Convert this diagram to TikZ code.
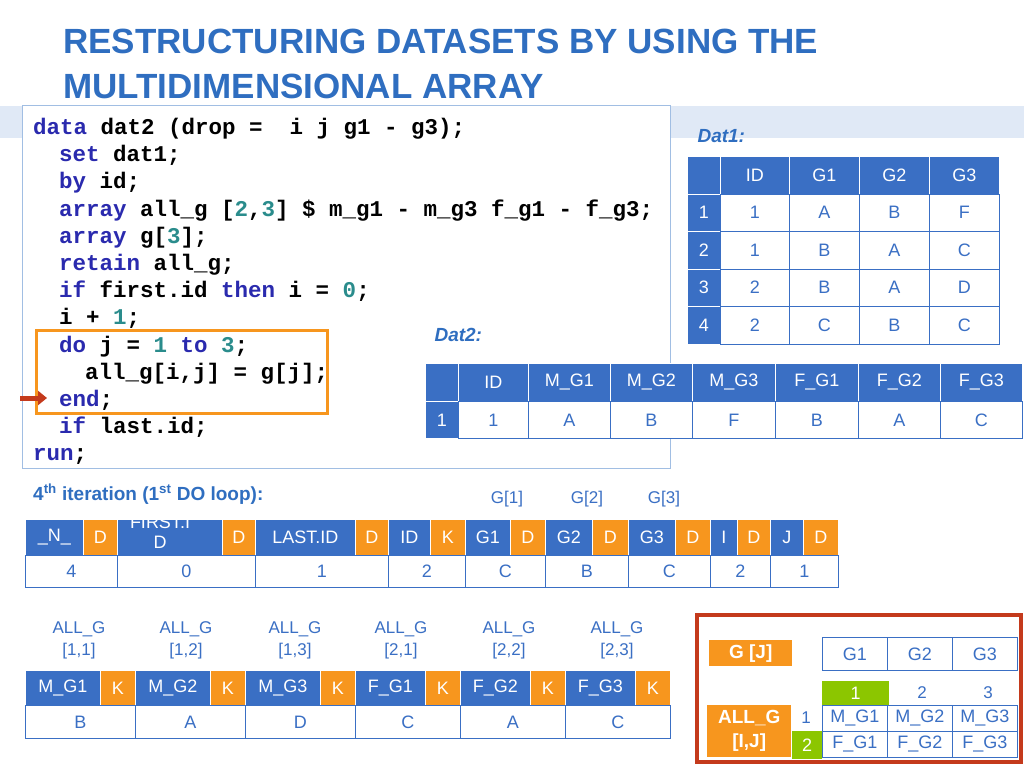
\documentclass[tikz,border=0pt]{standalone}
\usepackage{fontspec}
\usetikzlibrary{arrows.meta}
\setmainfont{Liberation Sans}
\newfontfamily\codefont{Liberation Mono}
\begin{document}
\begin{tikzpicture}[x=1pt,y=-1pt,
  blu/.style={fill=tblue,draw=white,line width=0.8pt,text=white,font=\fontsize{18}{18}\selectfont,inner sep=1pt},
  org/.style={fill=torange,draw=white,line width=0.8pt,text=white,font=\fontsize{18}{18}\selectfont,inner sep=1pt},
  wcell/.style={fill=white,draw=tblue,line width=0.8pt,text=tblue,font=\fontsize{18}{18}\selectfont,inner sep=1pt},
  lbl/.style={text=tblue,font=\fontsize{17}{22}\selectfont,align=center},
  hdr/.style={text=ttitle,font=\bfseries\itshape\fontsize{19}{19}\selectfont},
  code/.style={anchor=base west,inner sep=0pt,font=\codefont\bfseries\fontsize{22.5}{22.5}\selectfont}]
\definecolor{tblue}{HTML}{3A6FC4}
\definecolor{ttitle}{HTML}{2F6EC0}
\definecolor{torange}{HTML}{F7961E}
\definecolor{tgreen}{HTML}{8CC600}
\definecolor{kwc}{HTML}{2A2AAE}
\definecolor{numc}{HTML}{2A8C8C}
\definecolor{tred}{HTML}{C43A1C}
\useasboundingbox (0,0) rectangle (1024,768);
\fill[white] (0,0) rectangle (1024,768);
\fill[ttitle!15] (0,106) rectangle (1024,138);
% title
\node[anchor=base west,inner sep=0pt,text=ttitle,font=\bfseries\fontsize{35}{35}\selectfont] (t1) at (63,54) {RESTRUCTURING DATASETS BY USING THE};
\node[anchor=base west,inner sep=0pt,text=ttitle,font=\bfseries\fontsize{35}{35}\selectfont] (t2) at (63,98) {MULTIDIMENSIONAL ARRAY};
% code box
\draw[fill=white,draw=ttitle!45,line width=1pt] (22,105) rectangle (670,468);
\newcommand{\K}[1]{\textcolor{kwc}{#1}}
\newcommand{\N}[1]{\textcolor{numc}{#1}}
\def\cx{33}\def\ci{59}\def\cii{85}
\node[code] (c1) at (\cx,134) {\K{data} dat2 (drop =\ \ i j g1 - g3);};
\node[code] (c2) at (\ci,161) {\K{set} dat1;};
\node[code] (c3) at (\ci,188) {\K{by} id;};
\node[code] (c4) at (\ci,216) {\K{array} all\_g [\N{2},\N{3}] \$ m\_g1 - m\_g3 f\_g1 - f\_g3;};
\node[code] (c5) at (\ci,243) {\K{array} g[\N{3}];};
\node[code] (c6) at (\ci,270) {\K{retain} all\_g;};
\node[code] (c7) at (\ci,297) {\K{if} first.id \K{then} i = \N{0};};
\node[code] (c8) at (\ci,324) {i + \N{1};};
\node[code] (c9) at (\ci,352) {\K{do} j = \N{1} \K{to} \N{3};};
\node[code] (c10) at (\cii,379) {all\_g[i,j] = g[j];};
\node[code] (c11) at (\ci,406) {\K{end};};
\node[code] (c12) at (\ci,433) {\K{if} last.id;};
\node[code] (c13) at (\cx,460) {\K{run};};
\draw[torange,line width=3pt] (36,330) rectangle (327,413);
\coordinate (arS) at (20,398); \coordinate (arE) at (47,398);
\draw[tred,line width=5pt,-{Triangle[length=9pt,width=14pt]}] (arS) -- (arE);
% Dat1
\node[hdr,anchor=base west] (d1l) at (694,142) {Dat1:};
\foreach \x/\w/\t in {720/69/ID,789/70/G1,859/70/G2,929/70/G3}
  \node[blu,minimum width=\w,minimum height=37.5,anchor=north west] at (\x,156) {\t};
\node[blu,minimum width=33,minimum height=37.5,anchor=north west] at (687,156) {};
\foreach \r/\y/\a/\b/\c/\d in {1/193.5/1/A/B/F,2/231/1/B/A/C,3/268.5/2/B/A/D,4/306/2/C/B/C}{
  \node[blu,minimum width=33,minimum height=37.5,anchor=north west] at (687,\y) {\r};
  \node[wcell,minimum width=69,minimum height=37.5,anchor=north west] at (720,\y) {\a};
  \node[wcell,minimum width=70,minimum height=37.5,anchor=north west] at (789,\y) {\b};
  \node[wcell,minimum width=70,minimum height=37.5,anchor=north west] at (859,\y) {\c};
  \node[wcell,minimum width=70,minimum height=37.5,anchor=north west] at (929,\y) {\d};}
% Dat2
\node[hdr,anchor=base west] (d2l) at (431,341) {Dat2:};
\node[blu,minimum width=33,minimum height=38,anchor=north west] at (425,363) {};
\node[blu,minimum width=33,minimum height=37,anchor=north west] at (425,401) {1};
\foreach \x/\w/\t/\v in {458/70/ID/1,528/82/M\_G1/A,610/82/M\_G2/B,692/83/M\_G3/F,775/83/F\_G1/B,858/82/F\_G2/A,940/82/F\_G3/C}{
  \node[blu,minimum width=\w,minimum height=38,anchor=north west] at (\x,363) {\t};
  \node[wcell,minimum width=\w,minimum height=37,anchor=north west] at (\x,401) {\v};}
% iteration
\node[anchor=base west,inner sep=0pt,text=ttitle,font=\bfseries\fontsize{19}{19}\selectfont] (it) at (33,500) {4\textsuperscript{th} iteration (1\textsuperscript{st} DO loop):};
\node[lbl] (gg1) at (507,499) {G[1]};
\node[lbl] (gg2) at (587,499) {G[2]};
\node[lbl] (gg3) at (664,499) {G[3]};
\foreach \a/\b/\c/\t/\f in {25/83/117/\_N\_/D,255/355/388/LAST.ID/D,388/430/465/ID/K,465/510/545/G1/D,545/592/628/G2/D,628/675/710/G3/D,710/737/770/I/D,770/803/838/J/D}{
  \node[blu,minimum width=\b-\a,minimum height=36,anchor=north west] at (\a,519) {\t};
  \node[org,minimum width=\c-\b,minimum height=36,anchor=north west] at (\b,519) {\f};}
\node[blu,minimum width=105,minimum height=36,anchor=north west] (fi) at (117,519) {};
\begin{scope}
\clip (117,520) rectangle (222,554);
\node[text=white,font=\fontsize{18}{20}\selectfont,align=center] at (160,532) {FIRST.I\\D};
\end{scope}
\node[org,minimum width=33,minimum height=36,anchor=north west] at (222,519) {D};
\foreach \a/\b/\v in {25/117/4,117/255/0,255/388/1,388/465/2,465/545/C,545/628/B,628/710/C,710/770/2,770/838/1}
  \node[wcell,minimum width=\b-\a,minimum height=32,anchor=north west] at (\a,555) {\v};
% ALL_G row
\foreach \x/\t in {79/{[1,1]},186/{[1,2]},295/{[1,3]},401/{[2,1]},509/{[2,2]},617/{[2,3]}}
  \node[lbl] at (\x,640) {ALL\_G\\\t};
\foreach \a/\b/\c/\t/\v in {25/100/135/M\_G1/B,135/210/245/M\_G2/A,245/320/355/M\_G3/D,355/425/460/F\_G1/C,460/530/565/F\_G2/A,565/635/670/F\_G3/C}{
  \node[blu,minimum width=\b-\a,minimum height=35,anchor=north west] at (\a,670) {\t};
  \node[org,minimum width=\c-\b,minimum height=35,anchor=north west] at (\b,670) {K};
  \node[wcell,minimum width=\c-\a,minimum height=33,anchor=north west] at (\a,705) {\v};}
% bottom-right box
\draw[tred,line width=4.5pt] (697,615) rectangle (1021,762);
\node[fill=torange,text=white,font=\bfseries\fontsize{19}{19}\selectfont,minimum width=83,minimum height=26,anchor=north west] (gj) at (709,640) {G [J]};
\foreach \x/\t in {822/G1,887/G2,952/G3}
  \node[wcell,minimum width=65,minimum height=33,anchor=north west] at (\x,637) {\t};
\node[fill=tgreen,text=white,minimum width=67,minimum height=24,anchor=north west,inner sep=0pt,font=\fontsize{18}{18}\selectfont] at (822,681) {1};
\node[lbl] at (922,693) {2};
\node[lbl] at (988,693) {3};
\node[fill=torange,text=white,font=\bfseries\fontsize{19}{24}\selectfont,align=center,minimum width=84,minimum height=52,inner sep=0pt,anchor=north west] (ag) at (707,705) {ALL\_G\\{[I,J]}};
\node[lbl] at (806,718) {1};
\node[fill=tgreen,text=white,minimum width=30,minimum height=28,inner sep=0pt,anchor=north west,font=\fontsize{18}{18}\selectfont] at (792,731) {2};
\foreach \x/\m/\f in {822/M\_G1/F\_G1,887/M\_G2/F\_G2,952/M\_G3/F\_G3}{
  \node[wcell,minimum width=65,minimum height=26,anchor=north west,inner sep=0pt] at (\x,705) {\m};
  \node[wcell,minimum width=65,minimum height=26,anchor=north west,inner sep=0pt] at (\x,731) {\f};}
\end{tikzpicture}
\end{document}
